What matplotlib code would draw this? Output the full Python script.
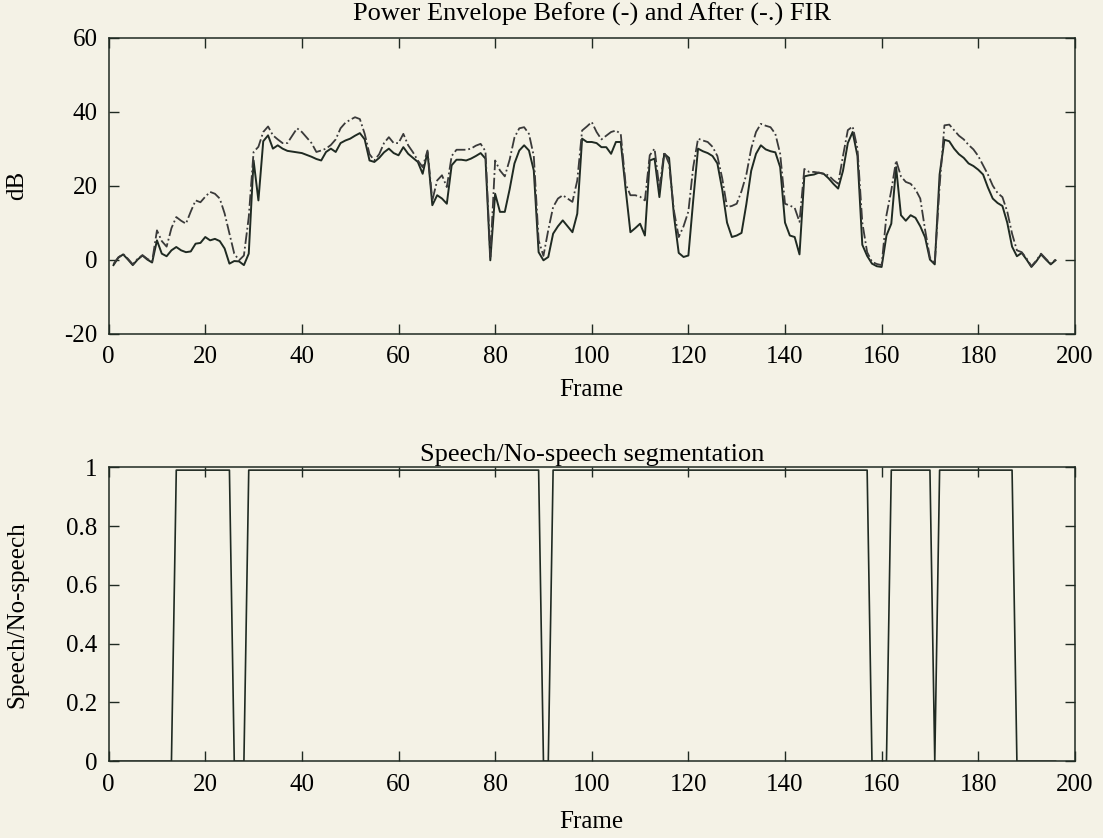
import numpy as np
import matplotlib
matplotlib.use('Agg')
import matplotlib.pyplot as plt
from matplotlib.ticker import FuncFormatter

# power envelope (dB) per frame, before (-) and after (-.) FIR
frames = np.arange(1, 197)

before_fir = [
    -1.5, 0.5, 1.4, 0.0, -1.5, 0.0, 1.1, 0.0, -0.8, 5.2,
    1.6, 0.9, 2.5, 3.4, 2.5, 2.0, 2.2, 4.3, 4.5, 6.1,
    5.2, 5.6, 5.0, 3.0, -1.1, -0.4, -0.5, -1.5, 1.6, 26.8,
    16.0, 32.0, 33.6, 30.0, 30.9, 30.0, 29.4, 29.2, 29.0, 28.8,
    28.3, 27.8, 27.2, 26.8, 29.1, 30.0, 29.1, 31.5, 32.2, 32.7,
    33.5, 34.2, 32.5, 26.8, 26.4, 27.5, 29.0, 30.0, 28.8, 28.2,
    30.4, 28.6, 27.5, 26.4, 23.2, 29.1, 14.7, 17.4, 16.5, 15.1,
    25.5, 27.0, 27.0, 26.8, 27.3, 28.0, 28.8, 27.3, -0.2, 17.8,
    12.9, 12.9, 19.0, 26.0, 29.5, 30.9, 29.5, 24.1, 2.0, -0.2,
    0.7, 7.0, 9.0, 10.6, 9.0, 7.4, 12.4, 32.7, 31.8, 31.8,
    31.5, 30.4, 30.4, 28.6, 31.8, 31.8, 19.2, 7.4, 8.5, 9.7,
    6.5, 26.8, 27.3, 16.9, 28.6, 27.5, 12.0, 1.8, 0.7, 1.1,
    16.0, 30.0, 29.3, 28.8, 28.0, 26.0, 19.0, 10.0, 6.1, 6.5,
    7.2, 15.0, 24.0, 28.6, 30.9, 29.8, 29.3, 29.0, 25.0, 10.0,
    6.5, 6.1, 1.4, 22.5, 22.8, 23.0, 23.5, 23.2, 22.0, 20.5,
    19.2, 24.0, 31.5, 34.5, 28.0, 4.0, 1.0, -1.1, -1.8, -2.0,
    6.5, 9.7, 25.0, 12.0, 10.5, 12.0, 11.3, 9.0, 6.0, 0.0,
    -1.3, 23.0, 32.4, 32.0, 30.0, 28.5, 27.5, 26.0, 25.3, 24.3,
    23.0, 19.5, 16.5, 15.3, 14.5, 10.0, 3.5, 0.9, 1.8, 0.0,
    -2.0, -0.5, 1.4, 0.0, -1.3, -0.2,
]

after_fir = [
    -1.2, 0.6, 1.5, 0.2, -1.3, 0.2, 1.2, 0.2, -0.5, 7.9,
    5.0, 3.5, 8.5, 11.5, 10.5, 9.7, 13.0, 16.0, 15.5, 17.0,
    18.3, 17.8, 16.5, 12.5, 7.0, 1.6, -0.2, 1.1, 11.5, 29.1,
    30.5, 34.5, 36.0, 33.6, 32.5, 31.5, 31.5, 33.5, 35.5, 34.5,
    33.0, 31.5, 29.1, 29.5, 30.0, 31.0, 32.5, 35.5, 37.0, 37.8,
    38.5, 38.0, 34.0, 28.5, 26.8, 28.5, 31.5, 33.1, 31.5, 31.5,
    34.0, 30.9, 29.0, 26.8, 25.0, 29.5, 16.0, 21.4, 22.8, 19.6,
    28.0, 29.7, 29.7, 29.7, 30.0, 30.8, 31.3, 29.3, 0.7, 26.8,
    24.1, 22.5, 27.0, 33.0, 35.5, 35.8, 34.0, 28.0, 5.2, 1.0,
    8.0, 14.2, 16.5, 17.4, 16.5, 15.6, 21.4, 34.9, 36.0, 37.2,
    34.5, 32.5, 33.5, 34.5, 34.9, 34.0, 20.5, 17.4, 17.4, 17.0,
    16.0, 28.2, 30.0, 19.2, 29.1, 25.9, 13.3, 6.1, 9.0, 13.0,
    25.0, 32.7, 32.2, 31.8, 30.5, 28.0, 22.0, 14.2, 14.5, 15.1,
    18.5, 23.0, 30.0, 34.5, 36.7, 36.2, 35.8, 34.0, 28.6, 15.1,
    14.6, 14.0, 10.2, 24.5, 23.7, 23.7, 23.5, 23.2, 22.8, 21.5,
    20.5, 28.0, 35.0, 36.0, 30.0, 10.0, 2.0, -0.6, -1.2, -1.5,
    12.0, 18.7, 26.8, 22.5, 21.0, 20.5, 19.0, 16.5, 8.0, 0.5,
    -1.1, 20.0, 36.3, 36.5, 35.0, 33.5, 32.5, 31.0, 29.8, 28.0,
    25.5, 23.0, 20.0, 18.0, 16.9, 13.0, 7.0, 2.5, 2.0, 0.3,
    -1.8, -0.3, 1.6, 0.2, -1.1, 0.0,
]

# speech segments (first frame, last frame) with value ~0.99
speech_segments = [(14, 25), (29, 89), (92, 157), (162, 170), (172, 187)]
speech_level = 0.99

seg = np.zeros(len(frames))
for a, b in speech_segments:
    seg[(frames >= a) & (frames <= b)] = speech_level

plt.rcParams['font.family'] = ['Liberation Serif', 'DejaVu Serif']
plt.rcParams['font.size'] = 18
plt.rcParams['axes.unicode_minus'] = False

bg = '#f4f2e6'
ink = '#1f2a22'

fig = plt.figure(figsize=(11.03, 8.38), dpi=100, facecolor=bg)
ax1 = fig.add_axes([0.0985, 0.602, 0.876, 0.353])
ax2 = fig.add_axes([0.0985, 0.0915, 0.876, 0.351])


def style(ax):
    ax.set_facecolor(bg)
    ax.tick_params(direction='in', top=True, right=True, length=7, width=1,
                   colors=ink, labelcolor='black')
    ax.tick_params(axis='x', pad=9)
    ax.tick_params(axis='y', pad=8)
    for s in ax.spines.values():
        s.set_color(ink)
        s.set_linewidth(1.1)
    ax.yaxis.set_label_coords(-0.083, 0.5)


ax1.plot(frames, before_fir, '-', color=ink, lw=1.4)
ax1.plot(frames, after_fir, '-.', color='#3a3a3a', lw=1.3)
ax1.set_xlim(0, 200)
ax1.set_ylim(-20, 60)
ax1.set_xticks(range(0, 201, 20))
ax1.set_yticks(range(-20, 61, 20))
ax1.text(0.5, 1.08, 'Power Envelope Before (-) and After (-.) FIR',
         transform=ax1.transAxes, ha='center', va='center', fontsize=19)
ax1.set_xlabel('Frame', va='center')
ax1.xaxis.set_label_coords(0.5, -0.19)
ax1.set_ylabel('dB')
style(ax1)

ax2.plot(frames, seg, '-', color=ink, lw=1.2)
ax2.set_xlim(0, 200)
ax2.set_ylim(0, 1)
ax2.set_xticks(range(0, 201, 20))
ax2.set_yticks(np.arange(0, 1.01, 0.2))
ax2.yaxis.set_major_formatter(FuncFormatter(lambda v, p: '%g' % round(v, 1)))
ax2.text(0.5, 1.042, 'Speech/No-speech segmentation',
         transform=ax2.transAxes, ha='center', va='center', fontsize=19)
ax2.set_xlabel('Frame', va='center')
ax2.xaxis.set_label_coords(0.5, -0.205)
ax2.set_ylabel('Speech/No-speech')
style(ax2)

fig.savefig('out.png', dpi=100, facecolor=bg)
